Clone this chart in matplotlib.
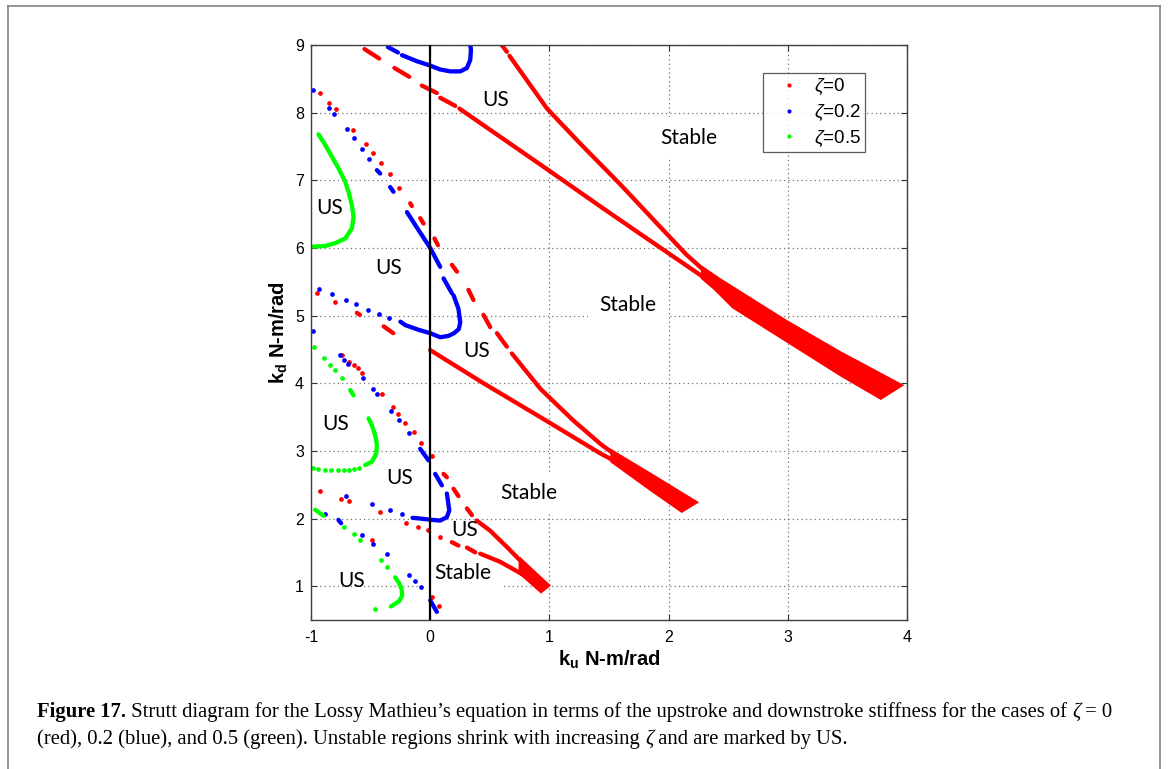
import numpy as np
import matplotlib
matplotlib.use("Agg")
import matplotlib.pyplot as plt
from matplotlib.lines import Line2D

nan = np.nan

# ---------------- data (ku, kd) ----------------
# zeta = 0 (red): dense runs drawn as short lines, sparse samples as dots
red_run_ku = [-0.551, -0.428, nan, -0.30, -0.176, nan, -0.07, 0.056, nan, 0.084, 0.21, nan,
              0.245, 1.00, 1.43, 1.76, 2.05, 2.34, nan,
              0.60, 0.643, nan, 0.665, 0.98, 1.26, 1.60, 1.93, 2.15, 2.34, nan,
              -0.168, -0.154, nan, -0.084, -0.056, nan, 0.036, 0.065, nan, 0.182, 0.224, nan,
              0.321, 0.363, nan, 0.447, 0.503, nan, 0.56, 0.643, nan,
              0.685, 0.923, 1.20, 1.43, 1.60, nan,
              0.0, 0.447, 0.923, 1.43, 1.60, nan,
              -0.615, -0.59, nan, -0.39, -0.31, nan,
              0.112, 0.14, nan, 0.196, 0.237, nan, 0.308, 0.35, nan,
              0.39, 0.503, 0.643, 0.81, 0.98, nan,
              0.182, 0.237, nan, 0.308, 0.378, nan,
              0.42, 0.587, 0.81, 0.95]
red_run_kd = [8.94, 8.80, nan, 8.66, 8.53, nan, 8.40, 8.29, nan, 8.22, 8.10, nan,
              8.06, 7.14, 6.61, 6.21, 5.86, 5.51, nan,
              9.00, 8.90, nan, 8.84, 8.06, 7.54, 6.93, 6.31, 5.90, 5.60, nan,
              6.66, 6.62, nan, 6.44, 6.36, nan, 6.14, 6.04, nan, 5.75, 5.65, nan,
              5.38, 5.23, nan, 5.01, 4.83, nan, 4.74, 4.54, nan,
              4.44, 3.92, 3.45, 3.10, 2.88, nan,
              4.49, 4.00, 3.50, 2.96, 2.80, nan,
              5.04, 5.01, nan, 4.84, 4.74, nan,
              2.66, 2.61, nan, 2.44, 2.33, nan, 2.15, 2.05, nan,
              1.97, 1.82, 1.58, 1.28, 1.01, nan,
              1.65, 1.60, nan, 1.57, 1.50, nan,
              1.48, 1.36, 1.14, 0.99]
red_dot_ku = [-0.923, -0.845, -0.79, -0.648, -0.537, -0.48, -0.41, -0.341, -0.258,
              -0.95, -0.797,
              -0.736, -0.685, -0.643, -0.607, -0.573, -0.405, -0.308, -0.266, -0.21, -0.14, -0.076, 0.014,
              -0.923, -0.747, -0.685, -0.42, -0.204, -0.103, -0.02, -0.489, 0.084, 0.014, 0.076]
red_dot_kd = [8.29, 8.14, 8.05, 7.75, 7.53, 7.40, 7.26, 7.10, 6.89,
              5.33, 5.20,
              4.41, 4.32, 4.27, 4.22, 4.15, 3.84, 3.65, 3.55, 3.41, 3.28, 3.12, 2.92,
              2.41, 2.29, 2.26, 2.10, 1.93, 1.88, 1.83, 1.69, 1.73, 0.84, 0.71]
# where the two red branches meet the points pile up into wide bands (outline)
band1_ku = [2.28, 2.43, 2.99, 3.44, 3.96, 3.78, 3.44, 2.99, 2.54, 2.38, 2.28]
band1_kd = [5.72, 5.54, 4.92, 4.46, 3.97, 3.77, 4.12, 4.62, 5.12, 5.40, 5.55]
band2_ku = [1.52, 1.85, 2.24, 2.11, 1.85, 1.52]
band2_kd = [3.01, 2.66, 2.24, 2.10, 2.42, 2.84]
band3_ku = [0.75, 1.00, 0.93, 0.75]
band3_kd = [1.42, 1.01, 0.91, 1.19]

# zeta = 0.2 (blue)
blue_run_ku = [-0.355, -0.271, nan,
               -0.237, -0.112, -0.006, 0.08, 0.168, 0.252, 0.308, 0.336, 0.342, 0.336, nan,
               -0.447, -0.42, nan, -0.336, -0.308, nan,
               -0.195, -0.10, 0.0, 0.084, nan, 0.112, 0.182, nan,
               0.196, 0.237, 0.252, 0.24, 0.20, 0.154, 0.084, 0.0, -0.098, -0.21, -0.25, nan,
               -0.084, -0.014, nan, 0.042, 0.098, nan,
               0.14, 0.16, 0.14, 0.084, 0.014, -0.084, -0.148, nan,
               -0.77, -0.747, nan, 0.0, 0.056]
blue_run_kd = [8.97, 8.89, nan,
               8.85, 8.76, 8.70, 8.64, 8.61, 8.61, 8.66, 8.78, 8.93, 9.00, nan,
               7.15, 7.10, nan, 6.90, 6.83, nan,
               6.53, 6.27, 6.00, 5.72, nan, 5.55, 5.33, nan,
               5.30, 5.10, 4.90, 4.80, 4.74, 4.70, 4.68, 4.74, 4.79, 4.86, 4.91, nan,
               3.03, 2.86, nan, 2.66, 2.49, nan,
               2.37, 2.12, 2.02, 1.97, 1.98, 2.00, 2.01, nan,
               1.98, 1.93, nan, 0.79, 0.62]
blue_dot_ku = [-0.987, -0.853, -0.803, -0.70, -0.638, -0.573, -0.51,
               -0.344, -0.428, -0.518, -0.623, -0.707, -0.82, -0.929, -0.987,
               -0.755, -0.727, -0.69, -0.56, -0.476, -0.447, -0.327, -0.258, -0.178,
               -0.237, -0.336, -0.489, -0.705,
               -0.88, -0.568, -0.48, -0.363, -0.182, -0.126, -0.078]
blue_dot_kd = [8.33, 8.07, 7.98, 7.76, 7.63, 7.47, 7.32,
               4.96, 5.02, 5.08, 5.17, 5.23, 5.32, 5.40, 4.77,
               4.41, 4.34, 4.28, 4.07, 3.91, 3.84, 3.59, 3.45, 3.26,
               2.07, 2.12, 2.22, 2.33,
               2.07, 1.75, 1.63, 1.48, 1.17, 1.08, 0.99]

# zeta = 0.5 (green)
green_run_ku = [-0.937, -0.88, -0.825, -0.77, -0.713, -0.685, -0.657, -0.643, -0.657, -0.713,
                -0.797, -0.88, -0.979, nan,
                -0.671, -0.643, nan,
                -0.517, -0.49, -0.47, -0.455, -0.447, -0.453, -0.489, -0.545, nan,
                -0.965, -0.895, nan,
                -0.294, -0.266, -0.24, -0.235, -0.26, -0.294, -0.33]
green_run_kd = [7.68, 7.52, 7.35, 7.18, 6.98, 6.83, 6.63, 6.46, 6.29, 6.14,
                6.07, 6.03, 6.02, nan,
                3.90, 3.82, nan,
                3.48, 3.38, 3.28, 3.18, 3.08, 2.96, 2.84, 2.79, nan,
                2.13, 2.04, nan,
                1.13, 1.06, 0.96, 0.86, 0.78, 0.74, 0.70]
green_dot_ku = [-0.979, -0.887, -0.839, -0.797, -0.741,
                -0.60, -0.643, -0.685, -0.72, -0.77, -0.83, -0.88, -0.94, -0.98,
                -0.727, -0.643, -0.587, -0.411, -0.363, -0.461]
green_dot_kd = [4.53, 4.37, 4.27, 4.19, 4.08,
                2.75, 2.73, 2.72, 2.71, 2.71, 2.71, 2.72, 2.73, 2.74,
                1.87, 1.77, 1.68, 1.38, 1.28, 0.66]

us_ku = [0.552, -0.845, -0.352, 0.392, -0.79, -0.256, 0.288, -0.657]
us_kd = [8.18, 6.59, 5.71, 4.48, 3.39, 2.60, 1.83, 1.07]
stable_ku = [2.167, 1.654, 0.825, 0.275]
stable_kd = [7.62, 5.15, 2.38, 1.20]

legend_labels = [r'$\zeta$=0', r'$\zeta$=0.2', r'$\zeta$=0.5']

caption1 = [("Figure 17.", "bold", "normal"),
            (" Strutt diagram for the Lossy Mathieu\u2019s equation in terms of the upstroke and "
             "downstroke stiffness for the cases of ", "normal", "normal"),
            ("\u03b6", "normal", "italic"), (" = 0", "normal", "normal")]
caption2 = [("(red), 0.2 (blue), and 0.5 (green). Unstable regions shrink with increasing ", "normal", "normal"),
            ("\u03b6", "normal", "italic"), (" and are marked by US.", "normal", "normal")]

# ---------------- figure ----------------
W, H = 1171, 769
plt.rcParams["axes.unicode_minus"] = False
plt.rcParams["mathtext.fontset"] = "custom"
plt.rcParams["mathtext.rm"] = "Liberation Sans"
plt.rcParams["mathtext.it"] = "Liberation Sans:italic"
plt.rcParams["mathtext.bf"] = "Liberation Sans:bold"
plt.rcParams["font.family"] = "Liberation Sans"

fig = plt.figure(figsize=(W/100, H/100), dpi=100)
ax = fig.add_axes([311/W, 1-620/H, (907-311)/W, (620-45)/H])

lw_run = 3.1
ms_dot = 3.4
ax.plot(red_run_ku, red_run_kd, color="r", lw=lw_run, solid_capstyle="round", zorder=2)
ax.plot(red_dot_ku, red_dot_kd, "o", color="r", ms=ms_dot, mew=0, zorder=2)
for bku, bkd in [(band1_ku, band1_kd), (band2_ku, band2_kd), (band3_ku, band3_kd)]:
    ax.fill(bku, bkd, color="r", lw=1.5, zorder=2)
ax.plot(blue_run_ku, blue_run_kd, color="b", lw=lw_run, solid_capstyle="round", zorder=2)
ax.plot(blue_dot_ku, blue_dot_kd, "o", color="b", ms=ms_dot, mew=0, zorder=2)
ax.plot(green_run_ku, green_run_kd, color="#00ff00", lw=lw_run, solid_capstyle="round", zorder=2)
ax.plot(green_dot_ku, green_dot_kd, "o", color="#00ff00", ms=ms_dot, mew=0, zorder=2)

ax.axvline(0, color="k", lw=1.6, zorder=3)

for x, y in zip(us_ku, us_kd):
    ax.text(x, y, "US", family="Lato", fontsize=15, ha="center", va="center", zorder=4)
# white box hides the grid but stays under the curves
for x, y in zip(stable_ku, stable_kd):
    ax.text(x, y, "Stable", family="Lato", fontsize=15, ha="center", va="center", zorder=1.5,
            bbox=dict(fc="white", ec="none", pad=8))

ax.set_xlim(-1, 4)
ax.set_ylim(0.5, 9)
ax.set_xticks(range(-1, 5))
ax.set_yticks(range(1, 10))
ax.grid(True, color="0.45", ls=(0, (1, 2.5)), lw=0.9)
ax.set_axisbelow(True)
ax.tick_params(direction="in", length=4, width=0.8, top=True, right=True,
               labelsize=11.5, color="0.2")
ax.tick_params(axis="x", pad=7)
ax.tick_params(axis="y", pad=5)
for s in ax.spines.values():
    s.set_color("0.25")
    s.set_linewidth(1.0)

ax.set_xlabel(r"$\mathbf{k_u}$ N-m/rad", fontsize=14.5, fontweight="bold", labelpad=3)
ax.set_ylabel(r"$\mathbf{k_d}$ N-m/rad", fontsize=14.5, fontweight="bold", labelpad=4)

handles = [Line2D([], [], ls="", marker="o", ms=3, mew=0, color=c) for c in ["r", "b", "#00ff00"]]
leg = ax.legend(handles, legend_labels, loc="upper right",
                bbox_to_anchor=(865/W, 1-73/H), bbox_transform=fig.transFigure,
                fontsize=13.5, frameon=True, fancybox=False, borderaxespad=0,
                borderpad=0.2, labelspacing=0.26, handlelength=2.45, handletextpad=0.1)
leg.get_frame().set_edgecolor("0.2")
leg.get_frame().set_linewidth(0.9)
leg.set_zorder(5)

# outer frame of the figure panel
for xs, ys in [([8, 8], [769, 6]), ([8, 1160], [6, 6]), ([1160, 1160], [6, 769])]:
    fig.add_artist(Line2D([x/W for x in xs], [1-y/H for y in ys], color="0.55", lw=1.3))

# caption built run by run
renderer = fig.canvas.get_renderer()
cap_fs = 14.9

def put_runs(x_px, y_px, runs):
    x = x_px
    for s, w, st in runs:
        t = fig.text(x/W, 1-y_px/H, s, family="Liberation Serif", fontsize=cap_fs,
                     fontweight=w, fontstyle=st, ha="left", va="baseline")
        x = t.get_window_extent(renderer).x1

put_runs(37, 717, caption1)
put_runs(37, 744, caption2)

fig.savefig("out.png", dpi=100)
